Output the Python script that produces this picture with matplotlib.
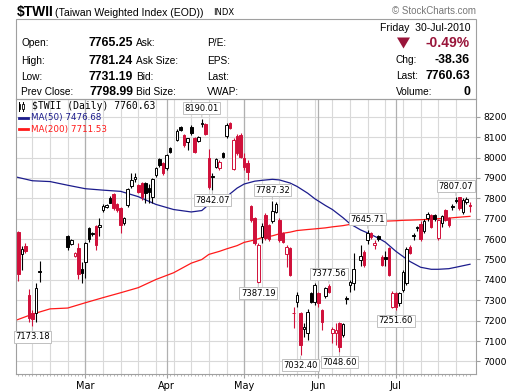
import numpy as np
import matplotlib
matplotlib.use('Agg')
from matplotlib import pyplot as plt
from matplotlib.patches import Rectangle

# Daily candles ($TWII)
dates = ['2010-02-02', '2010-02-03', '2010-02-04', '2010-02-05', '2010-02-08', '2010-02-09', '2010-02-10',
         '2010-02-22', '2010-02-23', '2010-02-24', '2010-02-25', '2010-02-26',
         '2010-03-01', '2010-03-02', '2010-03-03', '2010-03-04', '2010-03-05',
         '2010-03-08', '2010-03-09', '2010-03-10', '2010-03-11', '2010-03-12',
         '2010-03-15', '2010-03-16', '2010-03-17', '2010-03-18', '2010-03-19',
         '2010-03-22', '2010-03-23', '2010-03-24', '2010-03-25', '2010-03-26',
         '2010-03-29', '2010-03-30', '2010-03-31', '2010-04-01', '2010-04-02',
         '2010-04-06', '2010-04-07', '2010-04-08', '2010-04-09',
         '2010-04-12', '2010-04-13', '2010-04-14', '2010-04-15', '2010-04-16',
         '2010-04-19', '2010-04-20', '2010-04-21', '2010-04-22', '2010-04-23',
         '2010-04-26', '2010-04-27', '2010-04-28', '2010-04-29', '2010-04-30',
         '2010-05-03', '2010-05-04', '2010-05-05', '2010-05-06', '2010-05-07',
         '2010-05-10', '2010-05-11', '2010-05-12', '2010-05-13', '2010-05-14',
         '2010-05-17', '2010-05-18', '2010-05-19', '2010-05-20', '2010-05-21',
         '2010-05-24', '2010-05-25', '2010-05-26', '2010-05-27', '2010-05-28',
         '2010-05-31', '2010-06-01', '2010-06-02', '2010-06-03', '2010-06-04',
         '2010-06-07', '2010-06-08', '2010-06-09', '2010-06-10', '2010-06-11',
         '2010-06-14', '2010-06-15', '2010-06-17', '2010-06-18',
         '2010-06-21', '2010-06-22', '2010-06-23', '2010-06-24', '2010-06-25',
         '2010-06-28', '2010-06-29', '2010-06-30', '2010-07-01', '2010-07-02',
         '2010-07-05', '2010-07-06', '2010-07-07', '2010-07-08', '2010-07-09',
         '2010-07-12', '2010-07-13', '2010-07-14', '2010-07-15', '2010-07-16',
         '2010-07-19', '2010-07-20', '2010-07-21', '2010-07-22', '2010-07-23',
         '2010-07-26', '2010-07-27', '2010-07-28', '2010-07-29', '2010-07-30']
opens = [7633, 7527, 7566, 7326, 7236, 7239, 7445,
         7615, 7576, 7517, 7555, 7452,
         7489, 7653, 7630, 7664, 7658,
         7742, 7756, 7803, 7821, 7770,
         7751, 7677, 7767, 7860, 7895,
         7865, 7875, 7877, 7850, 7808,
         7914, 7991, 7975, 7947, 8045,
         8086, 8150, 8110, 8077,
         8151, 8094, 8082, 8164, 8164,
         7999, 7911, 7952, 7947, 8024,
         8105, 8171, 7942, 8105, 8110,
         8000, 7975, 7762, 7702, 7391,
         7612, 7718, 7669, 7690, 7735,
         7693, 7628, 7527, 7555, 7240,
         7293, 7239, 7160, 7138, 7337,
         7293, 7334, 7252, 7321, 7372,
         7141, 7141, 7187, 7130, 7310,
         7375, 7386, 7497, 7538,
         7596, 7630, 7571, 7615, 7514,
         7510, 7556, 7269, 7337, 7285,
         7350, 7383, 7563, 7618, 7658,
         7675, 7640, 7702, 7718, 7720,
         7604, 7677, 7742, 7702, 7760,
         7790, 7805, 7734, 7780, 7765.25]
highs = [7638, 7566, 7579, 7354, 7252, 7383, 7494,
         7620, 7600, 7538, 7582, 7489,
         7587, 7661, 7637, 7669, 7702,
         7770, 7772, 7811, 7825, 7775,
         7755, 7707, 7849, 7925, 7925,
         7870, 7880, 7880, 7870, 7900,
         7955, 7998, 7980, 8015, 8050,
         8140, 8155, 8115, 8098,
         8159, 8102, 8105, 8190.01, 8167,
         8040, 7925, 7996, 7988, 8029,
         8167, 8176, 8094, 8115, 8118,
         8020, 7990, 7767, 7710, 7580,
         7677, 7726, 7675, 7787.32, 7780,
         7702, 7636, 7571, 7563, 7269,
         7342, 7244, 7190, 7256, 7342,
         7383, 7342, 7255, 7367, 7377.56,
         7171, 7187, 7195, 7187, 7320,
         7400, 7530, 7570, 7545,
         7645.71, 7636, 7596, 7622, 7520,
         7540, 7560, 7345, 7342, 7340,
         7448, 7563, 7571, 7630, 7665,
         7690, 7700, 7735, 7723, 7725,
         7700, 7720, 7748, 7706, 7770,
         7807.07, 7808, 7800, 7805, 7781.24]
lows = [7396, 7448, 7530, 7195, 7173.18, 7195, 7391,
        7546, 7570, 7514, 7403, 7383,
        7407, 7587, 7615, 7546, 7615,
        7734, 7750, 7775, 7745, 7734,
        7631, 7669, 7759, 7849, 7880,
        7825, 7790, 7777, 7775, 7778,
        7905, 7955, 7915, 7940, 8020,
        8080, 8128, 8050, 8037,
        8110, 8020, 8077, 8151, 8110,
        7848, 7842.07, 7947, 7940, 8000,
        8094, 8140, 7939, 8012, 7996,
        7940, 7890, 7685, 7571, 7387.19,
        7579, 7596, 7590, 7680, 7730,
        7587, 7579, 7465, 7420, 7162,
        7269, 7032.40, 7120, 7105, 7288,
        7276, 7269, 7154, 7309, 7335,
        7089, 7080, 7048.60, 7121, 7280,
        7342, 7350, 7470, 7465,
        7575, 7600, 7550, 7590, 7470,
        7470, 7420, 7262, 7251.60, 7270,
        7342, 7375, 7526, 7596, 7640,
        7590, 7630, 7690, 7655, 7690,
        7598, 7660, 7690, 7660, 7745,
        7775, 7745, 7725, 7770, 7731.19]
closes = [7427, 7550, 7540, 7211, 7208, 7358, 7438,
          7559, 7595, 7533, 7427, 7435,
          7579, 7599, 7626, 7571, 7669,
          7762, 7767, 7778, 7751, 7742,
          7669, 7702, 7845, 7890, 7905,
          7832, 7808, 7825, 7830, 7895,
          7947, 7963, 7925, 8012, 8026,
          8131, 8135, 8061, 8094,
          8118, 8028, 8099, 8167, 8113,
          7855, 7902, 7991, 7979, 8004,
          8159, 8143, 8086, 8020, 8004,
          7955, 7930, 7693, 7579, 7571,
          7664, 7604, 7600, 7740, 7770,
          7595, 7587, 7563, 7424, 7236,
          7326, 7081, 7168, 7244, 7293,
          7375, 7285, 7195, 7358, 7340,
          7158, 7155, 7073, 7184, 7305,
          7391, 7453, 7517, 7473,
          7630, 7612, 7582, 7600, 7473,
          7500, 7424, 7334, 7265, 7334,
          7440, 7550, 7530, 7615, 7655,
          7600, 7690, 7723, 7661, 7700,
          7693, 7713, 7693, 7669, 7756,
          7787, 7751, 7792, 7798.99, 7760.63]
prev_close_start = 7640

# moving averages
ma_dates = ['2010-02-01', '2010-02-08', '2010-02-15', '2010-02-22', '2010-03-01', '2010-03-08',
            '2010-03-15', '2010-03-22', '2010-03-29', '2010-04-05', '2010-04-12', '2010-04-15',
            '2010-04-19', '2010-04-22', '2010-04-26', '2010-04-29', '2010-05-03', '2010-05-06',
            '2010-05-10', '2010-05-13', '2010-05-17', '2010-05-20', '2010-05-24', '2010-05-27',
            '2010-05-31', '2010-06-03', '2010-06-07', '2010-06-10', '2010-06-14', '2010-06-17',
            '2010-06-21', '2010-06-24', '2010-06-28', '2010-07-01', '2010-07-05', '2010-07-07',
            '2010-07-12', '2010-07-15', '2010-07-19', '2010-07-22', '2010-07-26', '2010-07-30']
ma50 = [7906, 7886, 7882, 7864, 7847, 7840,
        7834, 7808, 7770, 7745, 7733, 7740,
        7770, 7790, 7808, 7850, 7870, 7884,
        7888, 7893, 7890, 7875, 7858, 7825,
        7798, 7765, 7745, 7705, 7675, 7645,
        7630, 7605, 7585, 7540, 7515, 7490,
        7462, 7452, 7452, 7455, 7462, 7476.68]
ma200 = [7200, 7232, 7258, 7262, 7288, 7313,
         7337, 7362, 7402, 7435, 7482, 7500,
         7525, 7540, 7552, 7568, 7584, 7596,
         7607, 7616, 7626, 7634, 7642, 7647,
         7650, 7655, 7660, 7666, 7672, 7678,
         7683, 7686, 7688, 7690, 7692, 7693,
         7695, 7697, 7700, 7703, 7706, 7711.53]

# labelled highs / lows
peak_dates = ['2010-02-08', '2010-04-15', '2010-04-20', '2010-05-07', '2010-05-13', '2010-05-25',
              '2010-06-04', '2010-06-09', '2010-06-21', '2010-07-01', '2010-07-26']
peak_values = [7173.18, 8190.01, 7842.07, 7387.19, 7787.32, 7032.40,
               7377.56, 7048.60, 7645.71, 7251.60, 7807.07]
peak_above = [False, True, False, False, True, False, True, False, True, False, True]

month_names = ['Mar', 'Apr', 'May', 'Jun', 'Jul']
month_starts = ['2010-03-01', '2010-04-01', '2010-05-03', '2010-06-01', '2010-07-01']
y_ticks = list(range(7000, 8201, 100))

RED = '#d0103a'
NAVY = '#1c1c8c'
W, H = 520, 391


def px(x, y):
    return x / W, 1 - y / H


fig = plt.figure(figsize=(W / 100, H / 100), dpi=100)
fig.patch.set_facecolor('white')

# ---- header ----
fig.text(*px(16.5, 12), '$TWII', fontsize=10, fontweight='bold', family='Liberation Sans',
         va='center', parse_math=False)
fig.text(*px(55, 12.5), '(Taiwan Weighted Index (EOD))', fontsize=7.6, family='Liberation Sans',
         va='center')
fig.text(*px(213, 12.5), 'INDX', fontsize=6, family='DejaVu Sans', va='center')
fig.text(*px(476, 11.5), '\u00a9 StockCharts.com', fontsize=7, family='Liberation Sans',
         color='#777777', ha='right', va='center')
fig.patches.append(Rectangle(px(16, 99), 460 / W, 80 / H, transform=fig.transFigure,
                             fill=False, ec='#a0a0a0', lw=0.8))

rows_y = [43.5, 61, 77, 92]
left_lab = ['Open:', 'High:', 'Low:', 'Prev Close:']
left_val = ['7765.25', '7781.24', '7731.19', '7798.99']
mid_lab = ['Ask:', 'Ask Size:', 'Bid:', 'Bid Size:']
right_lab = ['P/E:', 'EPS:', 'Last:', 'VWAP:']
for yy, a, b, c, d in zip(rows_y, left_lab, left_val, mid_lab, right_lab):
    fig.text(*px(21, yy), a, fontsize=7.3, family='Liberation Sans', va='center')
    fig.text(*px(133, yy), b, fontsize=8.8, fontweight='bold', family='Liberation Sans',
             va='center', ha='right')
    fig.text(*px(136, yy), c, fontsize=7.3, family='Liberation Sans', va='center')
    fig.text(*px(207, yy), d, fontsize=7.3, family='Liberation Sans', va='center')

fig.text(*px(470, 28), 'Friday  30-Jul-2010', fontsize=7.6, family='Liberation Sans',
         ha='right', va='center')
fig.patches.append(plt.Polygon([px(397, 37.5), px(410, 37.5), px(403.5, 48.5)],
                               closed=True, transform=fig.transFigure, fc='#99153a', ec='none'))
fig.text(*px(470, 43), '-0.49%', fontsize=10, fontweight='bold', family='Liberation Sans',
         color='#99153a', ha='right', va='center')
for yy, lab, val in zip([60, 76, 92], ['Chg:', 'Last:', 'Volume:'], ['-38.36', '7760.63', '0']):
    fig.text(*px(396, yy), lab, fontsize=7.3, family='Liberation Sans', va='center')
    fig.text(*px(470, yy), val, fontsize=8.8, fontweight='bold', family='Liberation Sans',
             ha='right', va='center')

# ---- price panel ----
ax = fig.add_axes([16 / W, 1 - 374.3 / H, 460 / W, 275.3 / H])
ax.set_xlim(0.34, 130.7)
ax.set_ylim(6937.2, 8286.8)

x = np.busday_count('2010-02-01', dates)
o = np.array(opens, dtype=float)
h = np.array(highs, dtype=float)
l = np.array(lows, dtype=float)
c = np.array(closes, dtype=float)
prev = np.concatenate([[prev_close_start], c[:-1]])
colors = np.where(c >= prev, 'black', RED)
hollow = c > o

# grid
ax.set_yticks(y_ticks)
for v in y_ticks:
    ax.axhline(v, color='#d9d9d9', lw=0.8, zorder=0)
n_days = int(np.busday_count('2010-02-01', '2010-08-02'))
for d in range(0, n_days, 5):
    ax.axvline(d, color='#d9d9d9', lw=0.8, zorder=0)
mx = np.busday_count('2010-02-01', month_starts)
for d in mx:
    ax.axvline(d, color='#b0b0b0', lw=0.9, zorder=0)

# moving averages
mxa = np.busday_count('2010-02-01', ma_dates)
ax.plot(mxa, ma50, color=NAVY, lw=0.9, zorder=2)
ax.plot(mxa, ma200, color='#ff1a1a', lw=0.9, zorder=2)

# candles
ax.vlines(x, l, h, colors=colors, lw=0.8, zorder=3)
ax.bar(x, np.abs(c - o), width=0.72, bottom=np.minimum(o, c),
       color=np.where(hollow, 'white', colors), edgecolor=colors, linewidth=0.7, zorder=4)

# labelled extremes
for dt, v, up in zip(peak_dates, peak_values, peak_above):
    xd = np.busday_count('2010-02-01', dt)
    ax.annotate(f'{v:.2f}', xy=(xd, v), xytext=(0, 7.6 if up else -7.6),
                textcoords='offset points', ha='center', va='center', fontsize=6,
                family='DejaVu Sans', annotation_clip=False, zorder=6,
                bbox=dict(boxstyle='square,pad=0.18', fc='white', ec='#c0c0c0', lw=0.7),
                arrowprops=dict(arrowstyle='-', color='#c0c0c0', lw=0.7, shrinkA=0, shrinkB=1))

# legend lines
ax.text(0.034, 0.9746, '$TWII (Daily) 7760.63', transform=ax.transAxes, fontsize=7,
        family='DejaVu Sans Mono', va='center', parse_math=False, zorder=7)
ax.plot([0.0075, 0.0075], [0.958, 0.99], transform=ax.transAxes, color='black', lw=0.7, zorder=7)
ax.add_patch(Rectangle((0.0055, 0.965), 0.004, 0.018, transform=ax.transAxes,
                       fc='black', ec='black', lw=0.5, zorder=7))
ax.plot([0.0155, 0.0155], [0.955, 0.99], transform=ax.transAxes, color='black', lw=0.7, zorder=7)
ax.add_patch(Rectangle((0.0135, 0.962), 0.004, 0.02, transform=ax.transAxes,
                       fc='white', ec='black', lw=0.6, zorder=7))
ax.plot([0.007, 0.026], [0.931, 0.931], transform=ax.transAxes, color=NAVY, lw=2, zorder=7)
ax.text(0.032, 0.931, 'MA(50) 7476.68', transform=ax.transAxes, fontsize=6.3,
        color=NAVY, va='center', zorder=7)
ax.plot([0.007, 0.026], [0.891, 0.891], transform=ax.transAxes, color='#ff1a1a', lw=2, zorder=7)
ax.text(0.032, 0.891, 'MA(200) 7711.53', transform=ax.transAxes, fontsize=6.3,
        color='#ff1a1a', va='center', zorder=7)

# axes styling
for s in ax.spines.values():
    s.set_color('#a0a0a0')
    s.set_linewidth(0.8)
ax.yaxis.tick_right()
ax.tick_params(axis='y', which='major', labelsize=6.7, length=3, color='#a0a0a0', pad=2)
ax.set_xticks(mx)
ax.set_xticklabels(month_names)
ax.set_xticks(np.arange(1, n_days), minor=True)
ax.tick_params(axis='x', which='major', labelsize=7, length=3, color='#a0a0a0', pad=1.5)
ax.tick_params(axis='x', which='minor', length=1.5, color='#b0b0b0')

fig.savefig('out.png', dpi=100)
